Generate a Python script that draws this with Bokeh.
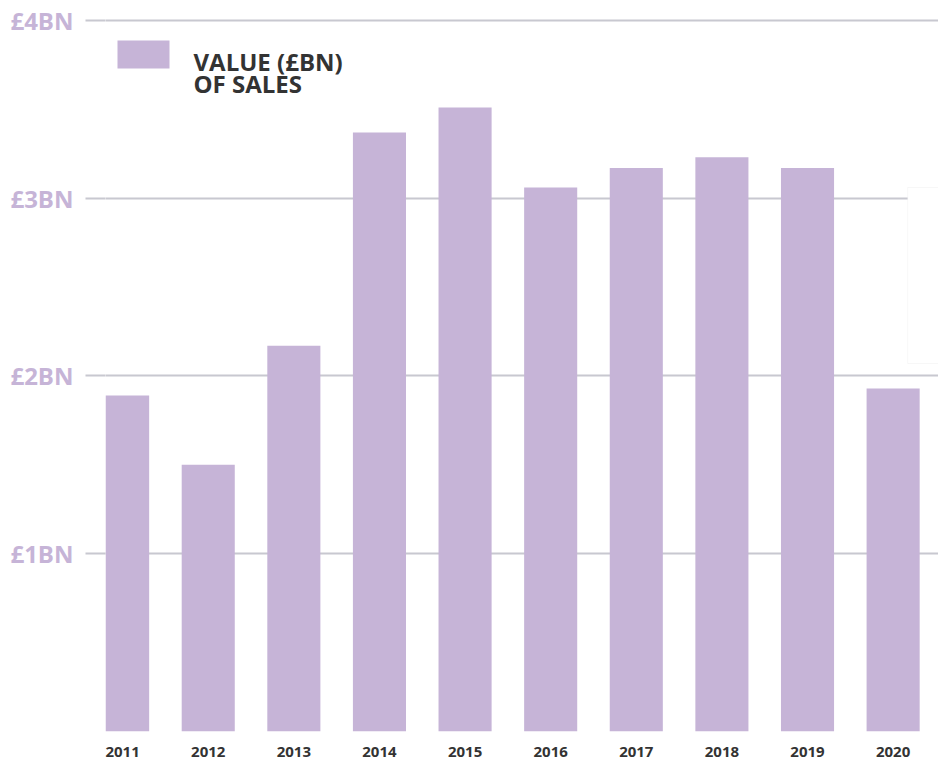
from bokeh.plotting import figure
from bokeh.models import (ColumnDataSource, Range1d, FixedTicker, BoxAnnotation, Label)
from bokeh.embed import file_html
from bokeh.resources import INLINE

years = [2011, 2012, 2013, 2014, 2015, 2016, 2017, 2018, 2019, 2020]
values = [1.89, 1.50, 2.17, 3.37, 3.51, 3.06, 3.17, 3.23, 3.17, 1.93]
y_ticks = [1, 2, 3, 4]
y_labels = ["£1BN", "£2BN", "£3BN", "£4BN"]
series_name = "VALUE (£BN)\nOF SALES"

BAR = "#c6b4d7"
GRID = "#c8c8d0"
DARK = "#333333"
FONT = "Open Sans"

src = ColumnDataSource(dict(x=years, top=values))

p = figure(width=938, height=760, output_backend="svg", toolbar_location=None,
           x_range=Range1d(2010.80, 2020.53), y_range=Range1d(0, 4.056),
           min_border_left=105, min_border_top=10, min_border_right=0, min_border_bottom=29)
p.outline_line_color = None
p.background_fill_color = "white"

p.vbar(x="x", top="top", bottom=0, width=0.62, source=src,
       fill_color=BAR, line_color=None)

# grid
p.xgrid.grid_line_color = None
p.ygrid.ticker = FixedTicker(ticks=y_ticks)
p.ygrid.grid_line_color = GRID
p.ygrid.grid_line_width = 2

# y axis
p.yaxis.ticker = FixedTicker(ticks=y_ticks)
p.yaxis.major_label_overrides = {t: l for t, l in zip(y_ticks, y_labels)}
p.yaxis.axis_line_color = None
p.yaxis.minor_tick_line_color = None
p.yaxis.major_tick_line_color = GRID
p.yaxis.major_tick_line_width = 2
p.yaxis.major_tick_out = 20
p.yaxis.major_tick_in = 0
p.yaxis.major_label_standoff = 12
p.yaxis.major_label_text_font = FONT
p.yaxis.major_label_text_font_style = "bold"
p.yaxis.major_label_text_font_size = "24px"
p.yaxis.major_label_text_color = BAR

# x axis
p.xaxis.ticker = FixedTicker(ticks=years)
p.xaxis.major_label_overrides = {y: str(y) for y in years}
p.xaxis.axis_line_color = None
p.xaxis.major_tick_line_color = None
p.xaxis.minor_tick_line_color = None
p.xaxis.major_label_standoff = 9
p.xaxis.major_label_text_font = FONT
p.xaxis.major_label_text_font_style = "bold"
p.xaxis.major_label_text_font_size = "15px"
p.xaxis.major_label_text_color = DARK

# faint box at the right (tooltip remnant in the reference)
p.add_layout(BoxAnnotation(left=2020.17, bottom=2.07, top=3.06, fill_color="white",
                           fill_alpha=1, line_color="#e4e4e4", line_width=1))

# key: swatch + two-line label (screen units, relative to the plot frame)
p.add_layout(BoxAnnotation(left=12, right=64, top=691, bottom=663,
                           left_units="screen", right_units="screen",
                           top_units="screen", bottom_units="screen",
                           fill_color=BAR, fill_alpha=1, line_color=None))
for i, line in enumerate(series_name.split("\n")):
    p.add_layout(Label(x=88, y=670 - 22 * i, x_units="screen", y_units="screen",
                       text=line, text_font=FONT, text_font_style="bold",
                       text_font_size="24px", text_color=DARK,
                       text_baseline="alphabetic", text_align="left"))

open("out.html", "w").write(file_html(p, INLINE))
